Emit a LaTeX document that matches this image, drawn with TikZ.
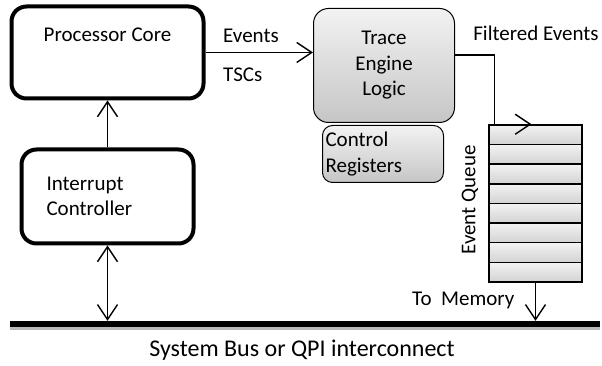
\documentclass[tikz,border=0pt]{standalone}
\usepackage{fontspec}
\setmainfont{Carlito}
\usetikzlibrary{arrows.meta, positioning, calc}

\begin{document}
\begin{tikzpicture}[
    x=1pt, y=1pt,
    font=\fontsize{21}{25.5}\selectfont,
    bigbox/.style={draw, line width=4pt, rounded corners=15pt, inner sep=0pt},
    logic/.style={draw, line width=1pt, rounded corners=#1, top color=gray!10, bottom color=gray!45, inner sep=0pt},
    slot/.style={draw, line width=1.5pt, top color=gray!10, bottom color=gray!35, minimum width=93pt, minimum height=19.625pt, inner sep=0pt},
    conn/.style={-{Straight Barb[length=15pt, width=20pt]}, line width=1.4pt},
    lbl/.style={inner sep=0pt},
]
\useasboundingbox (0,0) rectangle (602,366);

% Processor side
\node[bigbox, minimum width=192pt, minimum height=92pt] (pc) at (107.5, 313.5) {};
\node[lbl] (pctxt) at ($(pc.north)+(0,-30)$) {Processor Core};
\node[bigbox, minimum width=172pt, minimum height=94pt, text width=122pt, inner xsep=25pt, align=left] (ic) at (107.5, 169.5) {Interrupt\\Controller};

% Trace engine
\node[logic=15pt, minimum width=141pt, minimum height=114pt, align=center] (tel) at (384, 300.5) {Trace\\Engine\\Logic};
\node[logic=10pt, minimum width=121pt, minimum height=57pt, text width=115pt, inner xsep=3pt, align=left] (creg) at (383, 212) {Control\\Registers};

% Event queue
\foreach \i in {1,...,8}
    \node[slot] (q\i) at (535.5, {366-125-(\i-0.5)*19.625}) {};
\node[lbl, rotate=90] (eqtxt) at (470, 166) {Event Queue};

% System bus
\node[fill=black, minimum width=590pt, minimum height=6pt, inner sep=0pt] (bus) at (305, 42) {};
\fill[gray!55] (bus.south west) rectangle ($(bus.south east)+(0,-3)$);
\node[lbl, font=\fontsize{24}{28}\selectfont] (bustxt) at (302, 16) {System Bus or QPI interconnect};

% Connections
\draw[conn] (ic.north) -- (pc.south);
\draw[conn, {Straight Barb[length=15pt, width=20pt]}-{Straight Barb[length=15pt, width=20pt]}] (ic.south) -- (ic.south |- bus.north);
\draw[conn] (pc.east) -- (pc.east -| tel.west);
\node[lbl] (evtxt) at (251, 330) {Events};
\node[lbl, anchor=west] (tsctxt) at (223, 291) {TSCs};
\draw[conn] ($(tel.east)+(0,10.5)$) -| ($(q1.north west)+(6,0)$) -- ($(q1.north)+(-4,0)$);
\node[lbl] (fetxt) at (536, 333) {Filtered Events};
\draw[conn] (q8.south) -- (q8.south |- bus.north);
\node[lbl, anchor=east] (memtxt) at ($(q8.south)+(-21,-18)$) {To~ Memory};

\end{tikzpicture}
\end{document}
